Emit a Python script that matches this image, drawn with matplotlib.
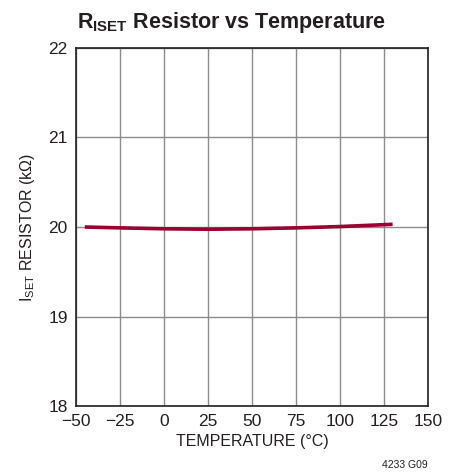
import matplotlib
matplotlib.use('Agg')
import matplotlib.pyplot as plt

# Data
temps = [-45, -25, 0, 25, 50, 75, 100, 130]
resistance = [20.00, 19.99, 19.98, 19.975, 19.98, 19.99, 20.005, 20.03]

xticks = [-50, -25, 0, 25, 50, 75, 100, 125, 150]
xtick_labels = ['\u221250', '\u221225', '0', '25', '50', '75', '100', '125', '150']
yticks = [18, 19, 20, 21, 22]

plt.rcParams['font.family'] = ['Liberation Sans', 'DejaVu Sans']
plt.rcParams['mathtext.fontset'] = 'custom'
plt.rcParams['mathtext.rm'] = 'Liberation Sans'
plt.rcParams['mathtext.bf'] = 'Liberation Sans:bold'

fig = plt.figure(figsize=(4.58, 4.73), dpi=100)
ax = fig.add_axes([0.166, 0.1416, 0.768, 0.757])

ax.plot(temps, resistance, color='#9b0032', lw=2.6, solid_capstyle='butt', zorder=3)

ax.set_xlim(-50, 150)
ax.set_ylim(18, 22)
ax.set_xticks(xticks)
ax.set_xticklabels(xtick_labels)
ax.set_yticks(yticks)
ax.grid(True, color='#8c8c8c', lw=1.0)
ax.tick_params(length=0, labelsize=12.5, pad=6, colors='#231f20')
for s in ax.spines.values():
    s.set_color('#231f20')
    s.set_linewidth(1.2)

ax.set_xlabel('TEMPERATURE (\u00b0C)', fontsize=11.5, color='#231f20', labelpad=3)
ax.set_ylabel('$\\mathrm{I_{SET}}$ RESISTOR (k\u03a9)', fontsize=11.5, color='#231f20', labelpad=8)

fig.text(0.168, 0.94, '$\\mathbf{R_{ISET}}$ Resistor vs Temperature', fontsize=15.5,
         fontweight='bold', color='#231f20', ha='left', va='baseline')
fig.text(0.933, 0.01, '4233 G09', fontsize=7.5, color='#231f20', ha='right', va='baseline')

fig.savefig('out.png', dpi=100)
